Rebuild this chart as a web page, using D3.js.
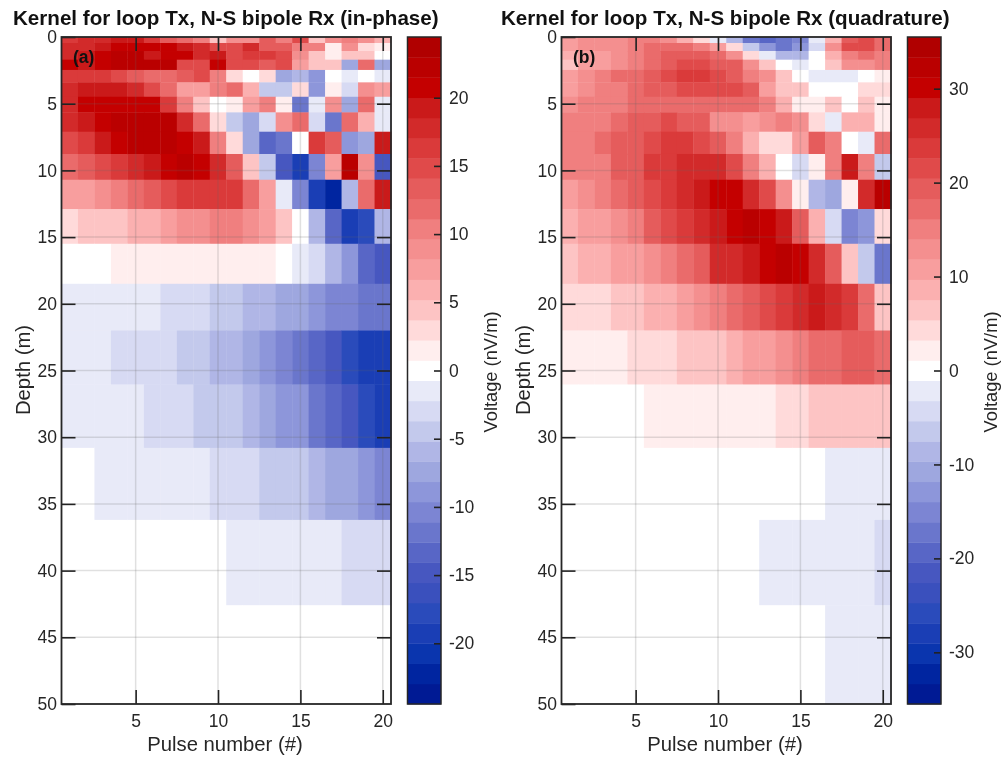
<!DOCTYPE html>
<html><head><meta charset="utf-8">
<script src="https://cdnjs.cloudflare.com/ajax/libs/d3/7.8.5/d3.min.js"></script>
<style>html,body{margin:0;padding:0;background:#fff}svg{display:block;filter:blur(.35px)}text{font-family:"Liberation Sans",Arial,sans-serif;fill:#262626}</style>
</head><body><svg id="c" width="1008" height="758"></svg>
<script>
const pulses = d3.range(1, 21);
const depthEdges = [0,.45,1.05,1.7,2.47,3.4,4.48,5.65,7.1,8.77,10.7,12.9,15.5,18.5,22,26.05,30.8,36.2,42.6,50];
const xTicks = [5,10,15,20];
const depthTicks = [0,5,10,15,20,25,30,35,40,45,50];
const cbTicksA = [-20,-15,-10,-5,0,5,10,15,20];
const cbTicksB = [-30,-20,-10,0,10,20,30];
const palette = ["#001a94","#0025a0","#0a35ae","#1a3eb5","#2a4bbb","#3a50bd","#4757c0","#5866c6","#6a76cc","#7c85d3","#8d96da","#9ea7df","#b0b6e6","#c3c9ec","#d7daf3","#e8eaf8","#ffffff","#ffeeee","#ffdada","#fdc4c4","#fbb0b0","#f89e9e","#f48f8f","#f07f7f","#ea6b6b","#e55c5c","#e04a4a","#da3a3a","#d22a2a","#ca1a1a","#c40000","#ba0000","#b00000"];
const valuesA = [
[16.5,18,18,19.5,19.5,16.5,13.5,12,10.5,4.5,9,9,13.5,10.5,15,4.5,9,10.5,9,6],
[18,18,19.5,21,21,21,21,19.5,18,15,15,18,13.5,13.5,10.5,10.5,1.5,9,3,1.5],
[18,19.5,21,22.5,22.5,19.5,21,21,18,19.5,15,16.5,16.5,15,9,4.5,1.5,4.5,4.5,0],
[21,19.5,21,22.5,22.5,22.5,22.5,15,15,21,15,15,13.5,15,7.5,4.5,4.5,-7.5,12,-7.5],
[16.5,16.5,16.5,15,13.5,12,12,13.5,15,10.5,3,0,3,-7.5,-6,-9,0,-1.5,0,-1.5],
[18,19.5,19.5,19.5,18,15,12,7.5,7.5,10.5,12,6,-4.5,-4.5,3,-9,1.5,-3,9,7.5],
[18,21,21,21,21,21,16.5,10.5,4.5,0,1.5,7.5,10.5,1.5,-12,-1.5,9,-7.5,12,-1.5],
[18,19.5,21,22.5,22.5,22.5,22.5,18,12,3,-4.5,-7.5,-3,9,12,-3,-12,12,6,-1.5],
[15,16.5,19.5,21,22.5,22.5,22.5,21,19.5,10.5,3,-7.5,-13.5,-12,0,16.5,13.5,-9,-7.5,19.5],
[12,13.5,15,16.5,18,19.5,21,22.5,21,18,13.5,4.5,-4.5,-15,-19.5,-10.5,7.5,22.5,9,-15],
[7.5,7.5,9,10.5,12,13.5,15,16.5,16.5,16.5,16.5,12,7.5,-1.5,-10.5,-19.5,-22.5,-6,12,19.5],
[3,4.5,4.5,4.5,6,6,7.5,9,9,10.5,10.5,9,7.5,4.5,0,-6,-13.5,-19.5,-18,-6],
[0,0,0,1.5,1.5,1.5,1.5,1.5,1.5,1.5,1.5,1.5,1.5,0,-1.5,-3,-6,-9,-13.5,-15],
[-1.5,-1.5,-1.5,-1.5,-1.5,-1.5,-3,-3,-3,-4.5,-4.5,-6,-6,-7.5,-7.5,-9,-10.5,-10.5,-12,-12],
[-1.5,-1.5,-1.5,-3,-3,-3,-3,-4.5,-4.5,-6,-6,-7.5,-9,-10.5,-12,-13.5,-15,-18,-19.5,-19.5],
[-1.5,-1.5,-1.5,-1.5,-1.5,-3,-3,-3,-4.5,-4.5,-4.5,-6,-7.5,-9,-9,-12,-13.5,-15,-18,-19.5],
[0,0,-1.5,-1.5,-1.5,-1.5,-1.5,-1.5,-1.5,-3,-3,-3,-4.5,-4.5,-4.5,-6,-7.5,-7.5,-9,-10.5],
[0,0,0,0,0,0,0,0,0,0,-1.5,-1.5,-1.5,-1.5,-1.5,-1.5,-1.5,-3,-3,-3],
[0,0,0,0,0,0,0,0,0,0,0,0,0,0,0,0,0,0,0,0]
];
const valuesB = [
[11,13,13,13,15,15,13,8.5,4.5,-2,-8.5,-17,-19.5,-17,-15,-2,8.5,19.5,21.5,17],
[11,13,13,13,15,17,17,17,15,11,4.5,-6.5,-13,-17,-13,-4.5,13,21.5,21.5,17],
[8.5,11,11,13,15,17,19.5,19.5,19.5,17,13,4.5,-2,-8.5,-8.5,0,8.5,15,17,15],
[6.5,11,11,13,15,17,19.5,21.5,21.5,19.5,19.5,13,6.5,0,-2,0,6.5,13,13,15],
[11,13,15,17,17,19.5,21.5,23.5,23.5,21.5,19.5,15,13,6.5,0,-2,-2,-2,0,2],
[11,13,15,15,17,19.5,19.5,21.5,21.5,21.5,21.5,19.5,11,6.5,6.5,0,0,0,4.5,4.5],
[13,15,15,15,17,17,17,17,17,17,17,17,15,8.5,2,2,6.5,0,6.5,2],
[15,15,15,17,19.5,19.5,21.5,19.5,19.5,13,13,11,13,15,13,4.5,-2,8.5,8.5,2],
[15,15,17,19.5,19.5,21.5,23.5,23.5,21.5,19.5,15,8.5,4.5,4.5,11,19.5,15,0,-2,17],
[15,15,15,19.5,19.5,23.5,23.5,26,26,26,21.5,15,8.5,0,-4.5,2,15,28,15,-6.5],
[11,13,15,17,19.5,21.5,23.5,26,28,30,30,26,21.5,13,2,-8.5,-11,2,26,32],
[8.5,11,11,13,15,19.5,21.5,23.5,26,28,30,32,30,28,19.5,8.5,-4.5,-15,-13,4.5],
[6.5,8.5,8.5,11,11,13,15,17,19.5,26,26,28,30,32,30,26,19.5,6.5,-6.5,-17],
[4.5,4.5,4.5,6.5,6.5,8.5,8.5,11,13,15,17,19.5,21.5,23.5,26,28,26,23.5,17,6.5],
[2,2,2,2,4.5,4.5,4.5,6.5,6.5,6.5,8.5,11,11,13,15,17,17,19.5,19.5,17],
[0,0,0,0,0,2,2,2,2,2,2,2,2,4.5,4.5,6.5,6.5,6.5,6.5,6.5],
[0,0,0,0,0,0,0,0,0,0,0,0,0,0,0,0,-2,-2,-2,-2],
[0,0,0,0,0,0,0,0,0,0,0,0,-2,-2,-2,-2,-2,-2,-2,-4.5],
[0,0,0,0,0,0,0,0,0,0,0,0,0,0,0,0,-2,-2,-2,-2]
];
const svg = d3.select("#c");
const plotTop = 37, plotBottom = 704;
const y = d3.scaleLinear().domain([0,50]).range([plotTop,plotBottom]);
function panel(off, titleX, title, tag, values, vmax, cbTicks){
  const x = d3.scaleLinear().domain([.5,20.5]).range([61.5+off,391+off]);
  const color = d3.scaleQuantize().domain([-vmax,vmax]).range(palette);
  const g = svg.append("g");
  values.forEach((row,i)=>{
    g.append("g").selectAll("rect").data(row).join("rect")
      .attr("x",(d,j)=>x(pulses[j]-.5)).attr("width",(d,j)=>x(pulses[j]+.5)-x(pulses[j]-.5)+.4)
      .attr("y",y(depthEdges[i])).attr("height",y(depthEdges[i+1])-y(depthEdges[i])+.4)
      .attr("fill",d=>color(d));
  });
  g.append("g").selectAll("line").data(xTicks).join("line")
    .attr("x1",d=>x(d)).attr("x2",d=>x(d)).attr("y1",plotTop).attr("y2",plotBottom)
    .attr("stroke","#666").attr("stroke-opacity",.2).attr("stroke-width",1.5);
  g.append("g").selectAll("line").data(depthTicks.slice(1,-1)).join("line")
    .attr("y1",d=>y(d)).attr("y2",d=>y(d)).attr("x1",x.range()[0]).attr("x2",x.range()[1])
    .attr("stroke","#666").attr("stroke-opacity",.2).attr("stroke-width",1.5);
  const styleAxis = a=>{a.select(".domain").remove();a.selectAll("line").attr("stroke","#222").attr("stroke-width",1.6);a.selectAll("text").attr("font-size",17.5).style("fill","#262626");};
  const ax = g.append("g").attr("transform",`translate(0,${plotBottom})`).call(d3.axisBottom(x).tickValues(xTicks).tickSize(-14));
  styleAxis(ax); ax.selectAll("text").attr("y",11).attr("dy","0.71em");
  const axT = g.append("g").attr("transform",`translate(0,${plotTop})`).call(d3.axisTop(x).tickValues(xTicks).tickSize(-14).tickFormat(""));
  styleAxis(axT);
  const ay = g.append("g").attr("transform",`translate(${x.range()[0]},0)`).call(d3.axisLeft(y).tickValues(depthTicks).tickSize(-14));
  styleAxis(ay); ay.selectAll("text").attr("x",-4.5);
  const ayR = g.append("g").attr("transform",`translate(${x.range()[1]},0)`).call(d3.axisRight(y).tickValues(depthTicks.slice(1,-1)).tickSize(-14).tickFormat(""));
  styleAxis(ayR);
  g.append("rect").attr("x",x.range()[0]).attr("y",plotTop).attr("width",x.range()[1]-x.range()[0]).attr("height",plotBottom-plotTop)
    .attr("fill","none").attr("stroke","#262626").attr("stroke-width",1.8);
  g.append("text").attr("x",titleX).attr("y",25).attr("font-size",20.6).attr("font-weight","bold").style("fill","#111").text(title);
  g.append("text").attr("x",73+off).attr("y",63).attr("font-size",17.5).attr("font-weight","bold").style("fill","#111").text(tag);
  g.append("text").attr("x",225+off).attr("y",751).attr("font-size",20.3).attr("text-anchor","middle").text("Pulse number (#)");
  g.append("text").attr("transform",`translate(${30+off},370) rotate(-90)`).attr("font-size",20.3).attr("text-anchor","middle").text("Depth (m)");
  const cb = d3.scaleLinear().domain([-vmax,vmax]).range([plotBottom,plotTop]);
  const bandH = (plotBottom-plotTop)/palette.length;
  const cbG = g.append("g");
  cbG.append("g").selectAll("rect").data(palette).join("rect")
    .attr("x",407.5+off).attr("width",33.5)
    .attr("y",(d,i)=>plotBottom-(i+1)*bandH).attr("height",bandH+.4).attr("fill",d=>d);
  const aC = cbG.append("g").attr("transform",`translate(${441+off},0)`).call(d3.axisRight(cb).tickValues(cbTicks).tickSize(-7).tickFormat(d=>String(d)));
  styleAxis(aC); aC.selectAll("text").attr("x",8);
  cbG.append("rect").attr("x",407.5+off).attr("y",plotTop).attr("width",33.5).attr("height",plotBottom-plotTop).attr("fill","none").attr("stroke","#262626").attr("stroke-width",1.5);
  g.append("text").attr("transform",`translate(${497+off},372) rotate(-90)`).attr("font-size",18.3).attr("text-anchor","middle").text("Voltage (nV/m)");
}
panel(0,13,"Kernel for loop Tx, N-S bipole Rx (in-phase)","(a)",valuesA,24.45,cbTicksA);
panel(500,501,"Kernel for loop Tx, N-S bipole Rx (quadrature)","(b)",valuesB,35.5,cbTicksB);
</script></body></html>
